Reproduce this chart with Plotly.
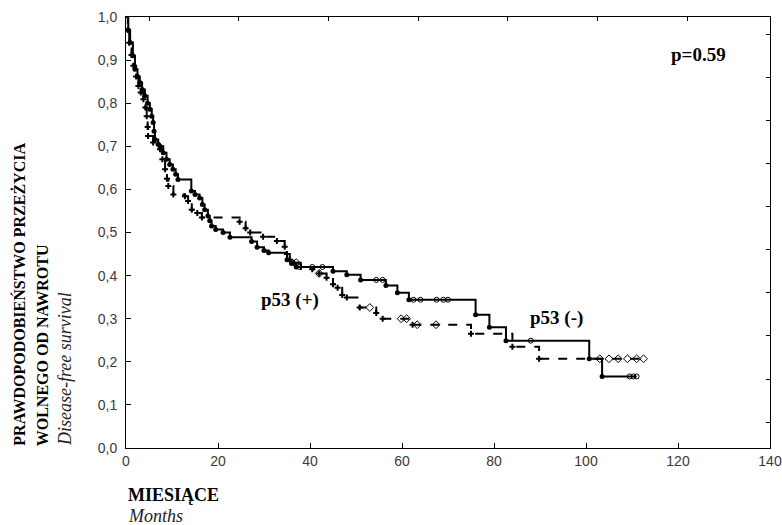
import plotly.graph_objects as go
import numpy as np

# Kaplan-Meier estimates: event times (months) and survival after each step
neg_time = [0, 0.5, 0.9, 1.5, 1.95, 2.5, 3.0, 3.5, 4.1, 4.7, 5.2, 5.6, 5.9, 6.1, 6.3,
            7.0, 7.4, 8.1, 8.8, 9.5, 10.2, 10.8, 11.3, 14.2, 15.0, 16.0, 16.6, 17.1,
            17.8, 18.2, 18.6, 19.5, 21.1, 22.6, 27.3, 28.5, 30.0, 31.0, 35.0, 36.0,
            37.0, 45.0, 48.0, 51.0, 56.5, 59.0, 61.5, 76.0, 79.0, 82.6, 100.7, 103.5]
neg_surv = [1.0, 0.97, 0.941, 0.91, 0.879, 0.862, 0.848, 0.832, 0.817, 0.80, 0.786,
            0.77, 0.755, 0.735, 0.716, 0.705, 0.70, 0.685, 0.67, 0.658, 0.647, 0.635,
            0.623, 0.596, 0.588, 0.58, 0.565, 0.553, 0.538, 0.527, 0.515, 0.507, 0.50,
            0.489, 0.479, 0.466, 0.458, 0.453, 0.437, 0.428, 0.42, 0.41, 0.402, 0.39,
            0.377, 0.36, 0.344, 0.309, 0.28, 0.249, 0.207, 0.166]
neg_censored = [37.7, 40.5, 42.7, 54.4, 55.8, 62.5, 64.0, 67.5, 69.0, 70.0, 88.0,
                109.5, 110.3, 111.0]
neg_end = 111.0

pos_time = [0, 0.4, 0.7, 1.2, 1.6, 2.2, 2.7, 3.2, 3.8, 4.2, 4.5, 4.7, 4.8, 5.9, 7.4,
            7.9, 8.5, 8.9, 9.2, 10.3, 12.8, 13.5, 14.3, 15.5, 16.5, 24.7, 26.0, 27.0,
            29.8, 32.8, 34.5, 35.0, 35.6, 36.5, 38.0, 40.5, 42.0, 43.6, 45.0, 46.0,
            47.0, 48.0, 50.8, 54.4, 55.8, 62.3, 75.0, 84.0, 89.8]
pos_surv = [1.0, 0.97, 0.94, 0.912, 0.887, 0.862, 0.84, 0.825, 0.809, 0.79, 0.77,
            0.745, 0.724, 0.709, 0.693, 0.67, 0.647, 0.625, 0.608, 0.588, 0.584, 0.573,
            0.553, 0.545, 0.535, 0.525, 0.51, 0.50, 0.49, 0.48, 0.467, 0.45, 0.437,
            0.43, 0.42, 0.415, 0.405, 0.395, 0.38, 0.372, 0.355, 0.349, 0.326, 0.313,
            0.30, 0.286, 0.265, 0.235, 0.207]
pos_censored = [37.0, 42.0, 53.0, 59.8, 61.0, 63.3, 67.4, 103.0, 105.0, 107.0, 109.0,
                111.0, 112.5]
pos_end = 112.5

x_ticks = list(range(0, 141, 20))
y_ticks = [round(v * 0.1, 1) for v in range(11)]
y_tick_text = [f"{v:.1f}".replace(".", ",") for v in y_ticks]


def surv_at(times, surv, t):
    idx = np.searchsorted(times, t, side="right") - 1
    return surv[max(idx, 0)]


fig = go.Figure()

curves = [
    (neg_time, neg_surv, neg_censored, neg_end, "solid", "circle", "circle-open", 5, 5),
    (pos_time, pos_surv, pos_censored, pos_end, "dash", "cross", "diamond-open", 5, 6),
]
for times, surv, cens, end, dash, ev_sym, cens_sym, ev_size, cens_size in curves:
    fig.add_trace(go.Scatter(
        x=times + [end], y=surv + [surv[-1]], mode="lines",
        line=dict(color="black", width=2, dash=dash, shape="hv"),
        showlegend=False, hoverinfo="skip"))
    fig.add_trace(go.Scatter(
        x=times[1:], y=surv[1:], mode="markers",
        marker=dict(symbol=ev_sym, size=ev_size, color="black",
                    line=dict(width=0)),
        showlegend=False))
    fig.add_trace(go.Scatter(
        x=cens, y=[surv_at(times, surv, t) for t in cens], mode="markers",
        marker=dict(symbol=cens_sym, size=cens_size, color="black",
                    line=dict(width=1, color="black")),
        showlegend=False))

# empty trace so the mirrored frame axes are drawn
fig.add_trace(go.Scatter(x=[], y=[], xaxis="x2", yaxis="y2", showlegend=False))

tick_font = dict(family="Liberation Sans, Arial, sans-serif", size=14, color="#3a3a3a")
serif = "Liberation Serif, Times New Roman, serif"

fig.update_layout(
    width=782, height=525,
    margin=dict(l=126, r=12, t=17, b=77, autoexpand=False),
    paper_bgcolor="white", plot_bgcolor="white",
    xaxis=dict(range=[0, 140], tickvals=x_ticks, ticks="inside", ticklen=5,
               tickcolor="black", showline=True, linecolor="black", linewidth=1,
               showgrid=False, zeroline=False, tickfont=tick_font,
               ticklabeloverflow="allow", automargin=False),
    yaxis=dict(range=[0, 1.0], tickvals=y_ticks, ticktext=y_tick_text,
               ticks="inside", ticklen=5, tickcolor="black", showline=True,
               linecolor="black", linewidth=1, showgrid=False, zeroline=False,
               tickfont=tick_font, ticklabeloverflow="allow", automargin=False,
               ticklabelstandoff=5),
    xaxis2=dict(range=[0, 140], overlaying="x", side="top",
                tickvals=[5, 24.5, 44, 63.5, 83, 102.5, 122], ticks="inside",
                ticklen=4, tickcolor="black", showticklabels=False, showline=True,
                linecolor="black", linewidth=1, showgrid=False, zeroline=False),
    yaxis2=dict(range=[0, 1.0], overlaying="y", side="right",
                tickvals=[0.06 + 0.1 * k for k in range(10)], ticks="inside",
                ticklen=4, tickcolor="black", showticklabels=False, showline=True,
                linecolor="black", linewidth=1, showgrid=False, zeroline=False),
)

annotations = [
    dict(text="<b>p=0.59</b>", x=124.4, y=0.912, xref="x", yref="y",
         font=dict(family=serif, size=19, color="black")),
    dict(text="<b>p53 (+)</b>", x=35.6, y=0.343, xref="x", yref="y",
         font=dict(family=serif, size=19, color="black")),
    dict(text="<b>p53 (-)</b>", x=93.6, y=0.302, xref="x", yref="y",
         font=dict(family=serif, size=19, color="black")),
    dict(text="<b>PRAWDOPODOBIEŃSTWO PRZEŻYCIA</b>", x=-0.1674, y=0.0,
         xref="paper", yref="paper", textangle=-90, xanchor="center",
         yanchor="bottom", font=dict(family=serif, size=16, color="black")),
    dict(text="<b>WOLNEGO OD NAWROTU</b>", x=-0.130, y=0.0,
         xref="paper", yref="paper", textangle=-90, xanchor="center",
         yanchor="bottom", font=dict(family=serif, size=16, color="black")),
    dict(text="<i>Disease-free survival</i>", x=-0.0946, y=0.0,
         xref="paper", yref="paper", textangle=-90, xanchor="center",
         yanchor="bottom", font=dict(family=serif, size=18, color="#222")),
    dict(text="<b>MIESIĄCE</b>", x=0.0, y=-0.109, xref="paper", yref="paper",
         xanchor="left", yanchor="middle",
         font=dict(family=serif, size=18, color="black")),
    dict(text="<i>Months</i>", x=0.0, y=-0.158, xref="paper", yref="paper",
         xanchor="left", yanchor="middle",
         font=dict(family=serif, size=18, color="#222")),
]
for a in annotations:
    a.setdefault("showarrow", False)
    fig.add_annotation(**a)

fig.write_html("out.html")
